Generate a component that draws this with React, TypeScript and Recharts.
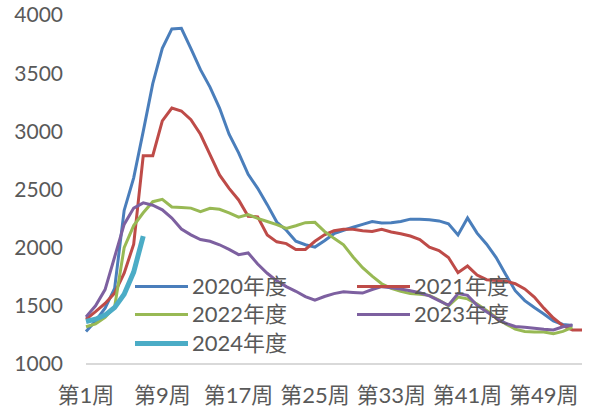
import { LineChart, Line, XAxis, YAxis } from "recharts";

const weeks = Array.from({ length: 53 }, (_, i) => `第${i + 1}周`);
const yTicks = [1000, 1500, 2000, 2500, 3000, 3500, 4000];

const y2020 = [
  1280, 1370, 1480, 1650, 2320, 2600, 3000, 3410, 3714, 3880,
  3886, 3710, 3530, 3380, 3200, 2975, 2815, 2630, 2510, 2370,
  2220, 2150, 2055, 2025, 2005, 2060, 2120, 2150, 2175, 2200,
  2225, 2212, 2215, 2225, 2245, 2245, 2240, 2230, 2205, 2110,
  2255, 2125, 2030, 1915, 1770, 1630, 1545, 1485, 1430, 1370,
  1340, 1330,
];
const y2021 = [
  1385, 1450, 1520, 1610, 1780, 2030, 2790, 2790, 3090, 3200,
  3175, 3100, 2975, 2800, 2625, 2510, 2410, 2270, 2265, 2110,
  2050, 2035, 1985, 1985, 2055, 2110, 2145, 2158, 2158, 2145,
  2140, 2158, 2135, 2120, 2100, 2070, 2005, 1975, 1915, 1785,
  1842, 1765, 1725, 1718, 1712, 1690, 1645, 1575, 1480, 1395,
  1330, 1292, 1292,
];
const y2022 = [
  1320, 1345, 1400, 1490, 2000, 2190, 2300, 2395, 2415, 2350,
  2345, 2340, 2310, 2338, 2330, 2300, 2262, 2285, 2252, 2225,
  2198, 2165, 2188, 2215, 2218, 2140, 2080, 2025, 1920, 1828,
  1755, 1690, 1650, 1625, 1605, 1600, 1590, 1550, 1500, 1575,
  1560, 1515, 1460, 1400, 1345, 1300, 1280, 1275, 1275, 1260,
  1280, 1315,
];
const y2023 = [
  1405, 1500, 1640, 1920, 2200, 2340, 2385, 2365, 2325, 2255,
  2160, 2110, 2070, 2055, 2025, 1985, 1940, 1955, 1860, 1780,
  1715, 1665, 1625, 1580, 1548, 1580, 1605, 1620, 1615, 1610,
  1640, 1665, 1655, 1645, 1630, 1612, 1585, 1545, 1505, 1605,
  1590, 1505, 1450, 1395, 1350, 1322, 1315, 1308, 1298, 1292,
  1320, 1335,
];
const y2024 = [1365, 1385, 1420, 1485, 1600, 1790, 2100];

const series = [
  { key: "2020年度", values: y2020, color: "#4A7EBB", width: 3 },
  { key: "2021年度", values: y2021, color: "#BE4B48", width: 3 },
  { key: "2022年度", values: y2022, color: "#98B954", width: 3 },
  { key: "2023年度", values: y2023, color: "#7D60A0", width: 3 },
  { key: "2024年度", values: y2024, color: "#4BACC6", width: 5 },
];

const data = weeks.map((w, i) => {
  const row: Record<string, any> = { week: w };
  series.forEach((s) => {
    if (i < s.values.length) row[s.key] = s.values[i];
  });
  return row;
});

const FONT = "Lato, 'Noto Sans CJK SC', sans-serif";
const TEXT = "#595959";

// legend slots, laid over the plot like the Excel one
const legendPos = [
  { left: 135, top: 286 },
  { left: 357, top: 286 },
  { left: 135, top: 314 },
  { left: 357, top: 314 },
  { left: 135, top: 343 },
];

export default function App() {
  return (
    <div style={{ position: "absolute", left: 0, top: 0, width: 592, height: 410, background: "#fff" }}>
      <LineChart width={592} height={410} data={data} margin={{ top: 15, right: 10, left: 0, bottom: 0 }}>
        <XAxis
          dataKey="week"
          interval={7}
          height={46}
          tickSize={0}
          tickMargin={23}
          stroke="#D9D9D9"
          strokeWidth={2}
          tick={{ fill: TEXT, fontSize: 22, fontFamily: FONT }}
        />
        <YAxis
          domain={[1000, 4000]}
          ticks={yTicks}
          width={86}
          axisLine={false}
          tickLine={false}
          tickSize={0}
          tickMargin={23}
          tick={{ fill: TEXT, fontSize: 21, fontFamily: FONT }}
        />
        {series.map((s) => (
          <Line
            key={s.key}
            dataKey={s.key}
            stroke={s.color}
            strokeWidth={s.width}
            dot={false}
            type="linear"
            isAnimationActive={false}
          />
        ))}
      </LineChart>
      {series.map((s, i) => (
        <div
          key={s.key}
          style={{
            position: "absolute",
            left: legendPos[i].left,
            top: legendPos[i].top - 12,
            height: 24,
            lineHeight: "24px",
            display: "flex",
            alignItems: "center",
            fontFamily: FONT,
            fontSize: 22,
            color: TEXT,
            whiteSpace: "nowrap",
          }}
        >
          <span style={{ display: "inline-block", width: 53, height: s.width, background: s.color, marginRight: 4 }} />
          <span>{s.key}</span>
        </div>
      ))}
    </div>
  );
}
